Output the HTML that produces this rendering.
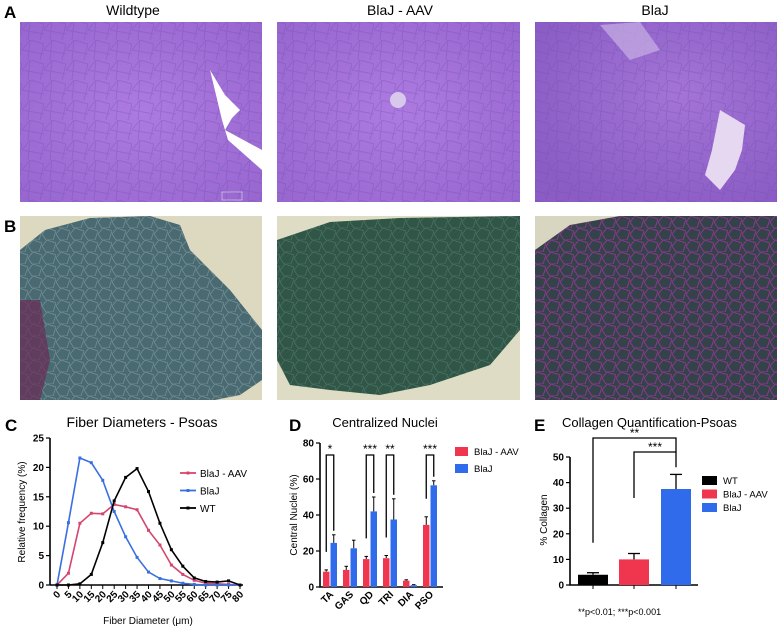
<!DOCTYPE html>
<html><head><meta charset="utf-8"><style>
html,body{margin:0;padding:0;background:#fff;}
svg{display:block;font-family:"Liberation Sans",sans-serif;}
</style></head><body>
<svg id="fig" width="777" height="630" viewBox="0 0 777 630" xmlns="http://www.w3.org/2000/svg">
<defs>
<radialGradient id="he1" cx="50%" cy="50%" r="70%"><stop offset="0" stop-color="#ad7be0"/><stop offset="1" stop-color="#9766cf"/></radialGradient>
<radialGradient id="he3" cx="60%" cy="40%" r="70%"><stop offset="0" stop-color="#a474d6"/><stop offset="1" stop-color="#8a5cc4"/></radialGradient>
<pattern id="cells" width="22" height="20" patternUnits="userSpaceOnUse"><path d="M0 10 L8 0 M8 0 L22 4 M22 4 L18 20 M8 0 L6 20 M0 10 L22 14" stroke="#7050b0" stroke-width="1" fill="none" opacity="0.35"/></pattern>
<pattern id="cellsB" width="14" height="12" patternUnits="userSpaceOnUse"><path d="M0 6 L5 0 L14 3 L11 12 L4 12 Z" stroke="#c8d8e0" stroke-width="0.7" fill="none" opacity="0.35"/></pattern>
<pattern id="cellsM" width="14" height="12" patternUnits="userSpaceOnUse"><path d="M0 6 L5 0 L14 3 L11 12 L4 12 Z" stroke="#d030c0" stroke-width="1" fill="none" opacity="0.55"/></pattern>
</defs>

<text x="4" y="18" font-size="17" font-weight="bold">A</text>
<text x="133" y="15" font-size="14" text-anchor="middle">Wildtype</text>
<text x="400" y="15" font-size="14" text-anchor="middle">BlaJ - AAV</text>
<text x="655" y="15" font-size="14" text-anchor="middle">BlaJ</text>

<g>
<rect x="20" y="22" width="242" height="180" fill="url(#he1)"/>
<rect x="20" y="22" width="242" height="180" fill="url(#cells)"/>
<path d="M210 70 L225 95 L240 110 L232 118 L225 130 L262 150 L262 170 L228 140 L222 120 Z" fill="#fff"/>
<rect x="222" y="192" width="20" height="8" fill="none" stroke="#ddd" stroke-width="0.6"/>
</g>
<g>
<rect x="277" y="22" width="243" height="180" fill="url(#he1)"/>
<rect x="277" y="22" width="243" height="180" fill="url(#cells)"/>
<circle cx="398" cy="100" r="8" fill="#d8c8ec"/>
</g>
<g>
<rect x="535" y="22" width="242" height="180" fill="url(#he3)"/>
<rect x="535" y="22" width="242" height="180" fill="url(#cells)"/>
<path d="M720 110 L745 125 L742 150 L735 170 L720 190 L705 175 L712 150 Z" fill="#e6d8f0"/>
<path d="M600 25 L640 22 L660 50 L630 60 Z" fill="#c8b0e4" opacity="0.7"/>
</g>

<text x="4" y="232" font-size="17" font-weight="bold">B</text>
<g>
<rect x="20" y="216" width="242" height="184" fill="#ddd9c0"/>
<path d="M20 250 L45 230 L90 218 L150 216 L180 225 L190 250 L230 290 L262 330 L262 380 L240 395 L215 400 L20 400 Z" fill="#4a6a72"/>
<path d="M20 250 L45 230 L90 218 L150 216 L180 225 L190 250 L230 290 L262 330 L262 380 L240 395 L215 400 L20 400 Z" fill="url(#cellsB)"/>
<path d="M20 300 L40 300 L50 360 L40 400 L20 400 Z" fill="#6a2a55" opacity="0.7"/>
</g>
<g>
<rect x="277" y="216" width="243" height="184" fill="#dedcc4"/>
<path d="M277 240 L330 222 L400 218 L520 216 L520 330 L490 365 L430 385 L380 395 L330 390 L290 385 L277 360 Z" fill="#2f5646"/>
<path d="M277 240 L330 222 L400 218 L520 216 L520 330 L490 365 L430 385 L380 395 L330 390 L290 385 L277 360 Z" fill="url(#cellsB)" opacity="0.6"/>
</g>
<g>
<rect x="535" y="216" width="242" height="184" fill="#d8d6c0"/>
<path d="M535 250 L570 225 L620 216 L777 216 L777 400 L535 400 Z" fill="#34434a"/>
<path d="M535 250 L570 225 L620 216 L777 216 L777 400 L535 400 Z" fill="url(#cellsM)"/>
</g>

<g id="chartC">
<text x="5" y="431" font-size="17" font-weight="bold">C</text>
<text x="142" y="427" font-size="14" text-anchor="middle">Fiber  Diameters -  Psoas</text>
<text x="0" y="0" font-size="10" text-anchor="middle" transform="translate(25,512) rotate(-90)">Relative frequency (%)</text>
<text x="148" y="624" font-size="10" text-anchor="middle">Fiber Diameter (μm)</text>
</g>

<g id="chartD">
<text x="289" y="431" font-size="17" font-weight="bold">D</text>
<text x="385" y="427" font-size="13" text-anchor="middle">Centralized Nuclei</text>
<text x="0" y="0" font-size="10" text-anchor="middle" transform="translate(297,515) rotate(-90)">Central Nuclei (%)</text>
</g>

<g id="chartE">
<text x="534" y="431" font-size="17" font-weight="bold">E</text>
<text x="562" y="427" font-size="13">Collagen Quantification-Psoas</text>
<text x="0" y="0" font-size="10" text-anchor="middle" transform="translate(547,520) rotate(-90)">% Collagen</text>
<text x="578" y="615" font-size="9">**p&lt;0.01; ***p&lt;0.001</text>
</g>
</svg>
<script>
const NS="http://www.w3.org/2000/svg";
function mk(parent,tag,attrs,txt){const e=document.createElementNS(NS,tag);for(const k in attrs)e.setAttribute(k,attrs[k]);if(txt!==undefined)e.textContent=txt;parent.appendChild(e);return e;}

const cDiameters=[0,5,10,15,20,25,30,35,40,45,50,55,60,65,70,75,80];
const cAav=[0,2,10.5,12.2,12.1,13.7,13.3,12.8,9.3,6.8,3.4,1.8,0.8,0.3,0.2,0.1,0];
const cBlaj=[0,10.6,21.6,20.8,17.8,12.5,8.2,4.7,2.2,1.1,0.7,0.3,0.1,0,0,0,0];
const cWt=[0,0,0.2,1.8,7.2,14.3,18.3,19.8,15.9,10.5,6,3.2,1.2,0.6,0.5,0.7,0];
const cYTicks=[0,5,10,15,20,25];
const cSeriesNames=["BlaJ - AAV","BlaJ","WT"];

const dMuscles=["TA","GAS","QD","TRI","DIA","PSO"];
const dAav=[8.5,9.5,15.5,16,3.5,34.5];
const dAavErr=[1,2,1.5,1.5,0.5,4.5];
const dBlaj=[24.5,21.5,42,37.5,1,56.5];
const dBlajErr=[4.5,4.5,8,11.5,0.3,2.5];
const dYTicks=[0,20,40,60,80];
const dStars=["*","","***","**","","***"];

const eGroups=["WT","BlaJ - AAV","BlaJ"];
const eValues=[4,10,37.5];
const eErr=[0.8,2.3,5.7];
const eYTicks=[0,10,20,30,40,50];

(function(){
const g=document.getElementById("chartC");
const x=v=>57+(v/80)*183, y=v=>585-(v/25)*147;
const ax=mk(g,"path",{d:`M50 ${y(25)} L50 585 M50 585 L243 585`,stroke:"#000","stroke-width":1.6,fill:"none"});


cYTicks.forEach(t=>{
 const tk=mk(g,"line",{x1:46,x2:50,y1:y(t),y2:y(t),stroke:"#000","stroke-width":1.2});
 
 
 const lb=mk(g,"text",{x:44,y:y(t)+3.5,"font-size":10,"font-weight":"bold","text-anchor":"end"},t);
 
 
});
cDiameters.forEach(d=>{
 const tk=mk(g,"line",{x1:x(d),x2:x(d),y1:585,y2:589,stroke:"#000","stroke-width":1});
 
 
 const lb=mk(g,"text",{x:0,y:0,"font-size":10,"font-weight":"bold","text-anchor":"end",transform:`translate(${x(d)+4},${595}) rotate(-45)`},d);
 
 
});
const series=[[cAav,"#d6456e"],[cBlaj,"#3a6fe0"],[cWt,"#000"]];
series.forEach(([vals,col],si)=>{
 const ln=mk(g,"polyline",{points:vals.map((v,i)=>x(cDiameters[i])+","+y(v)).join(" "),fill:"none",stroke:col,"stroke-width":1.6});
 
 
 vals.forEach((v,i)=>{
  const p=mk(g,"rect",{x:x(cDiameters[i])-1.5,y:y(v)-1.5,width:3,height:3,fill:col});
  
  
 });
 const ly=473+si*17.5;
 const ll=mk(g,"line",{x1:180,x2:196,y1:ly,y2:ly,stroke:col,"stroke-width":1.8});
 
 
 mk(g,"rect",{x:186.5,y:ly-1.5,width:3,height:3,fill:col});
 const lt=mk(g,"text",{x:200,y:ly+4,"font-size":10},cSeriesNames[si]);
 
 
});
})();

(function(){
const g=document.getElementById("chartD");
const y=v=>587-(v/80)*144;
const gx=i=>330+i*20;
const ax=mk(g,"path",{d:`M320 ${y(80)} L320 587 L443 587`,stroke:"#000","stroke-width":1.6,fill:"none"});


dYTicks.forEach(t=>{
 mk(g,"line",{x1:316,x2:320,y1:y(t),y2:y(t),stroke:"#000","stroke-width":1.2});
 const lb=mk(g,"text",{x:314,y:y(t)+3.5,"font-size":10,"font-weight":"bold","text-anchor":"end"},t);
 
 
});
dMuscles.forEach((m,i)=>{
 const cx=gx(i);
 [[dAav[i],dAavErr[i],"#f0364f",cx-7],[dBlaj[i],dBlajErr[i],"#2f6bea",cx+0.5]].forEach(([v,e,col,bx],k)=>{
  mk(g,"line",{x1:bx+3.25,x2:bx+3.25,y1:y(v),y2:y(v+e),stroke:"#000","stroke-width":1});
  mk(g,"line",{x1:bx+1.5,x2:bx+5,y1:y(v+e),y2:y(v+e),stroke:"#000","stroke-width":1});
  const b=mk(g,"rect",{x:bx,y:y(v),width:6.5,height:587-y(v),fill:col});
  
  
 });
 const lb=mk(g,"text",{x:0,y:0,"font-size":10,"font-weight":"bold","text-anchor":"end",transform:`translate(${cx+4},${595}) rotate(-45)`},m);
 
 
 if(dStars[i]){
  const top=y(80)+12;
  const br=mk(g,"path",{d:`M${cx-3.75} ${y(dAav[i]+dAavErr[i])-22>top?y(dAav[i]+dAavErr[i]+10):y(30)} L${cx-3.75} ${top} L${cx+3.75} ${top} L${cx+3.75} ${y(dBlaj[i]+dBlajErr[i])-4}`,fill:"none",stroke:"#000","stroke-width":1.3});
  
  
  const st=mk(g,"text",{x:cx,y:top-2,"font-size":12,"text-anchor":"middle"},dStars[i]);
  
  
 }
});
[["BlaJ - AAV","#f0364f"],["BlaJ","#2f6bea"]].forEach(([n,c],i)=>{
 const r=mk(g,"rect",{x:455,y:447+i*17,width:13,height:9,fill:c});
 
 
 mk(g,"text",{x:474,y:455+i*17,"font-size":9.5},n);
});
})();

(function(){
const g=document.getElementById("chartE");
const y=v=>585-(v/50)*128;
const bx=[578,619,661], bw=30;
const ax=mk(g,"path",{d:`M570 ${y(50)} L570 585 L698 585`,stroke:"#000","stroke-width":1.6,fill:"none"});


eYTicks.forEach(t=>{
 mk(g,"line",{x1:566,x2:570,y1:y(t),y2:y(t),stroke:"#000","stroke-width":1.2});
 const lb=mk(g,"text",{x:564,y:y(t)+3.5,"font-size":10,"font-weight":"bold","text-anchor":"end"},t);
 
 
});
const cols=["#000","#f0364f","#2f6bea"];
eGroups.forEach((n,i)=>{
 const cx=bx[i]+bw/2;
 mk(g,"line",{x1:cx,x2:cx,y1:y(eValues[i]),y2:y(eValues[i]+eErr[i]),stroke:"#000","stroke-width":1.3});
 mk(g,"line",{x1:cx-6,x2:cx+6,y1:y(eValues[i]+eErr[i]),y2:y(eValues[i]+eErr[i]),stroke:"#000","stroke-width":1.3});
 const b=mk(g,"rect",{x:bx[i],y:y(eValues[i]),width:bw,height:585-y(eValues[i]),fill:cols[i]});
 
 
 mk(g,"line",{x1:cx,x2:cx,y1:585,y2:589,stroke:"#000","stroke-width":1});
 const r=mk(g,"rect",{x:702,y:476+i*13.5,width:15,height:9,fill:cols[i]});
 
 
 mk(g,"text",{x:723,y:484+i*13.5,"font-size":9.5},n);
});
const c0=bx[0]+bw/2,c1=bx[1]+bw/2,c2=bx[2]+bw/2;
const b1=mk(g,"path",{d:`M${c0} ${y(16.5)} L${c0} 438 L${c2} 438 L${c2} ${y(46)}`,fill:"none",stroke:"#000","stroke-width":1.3});


mk(g,"text",{x:(c0+c2)/2,y:437,"font-size":12,"text-anchor":"middle"},"**");
const b2=mk(g,"path",{d:`M${c1} ${y(34)} L${c1} 452 L${c2} 452`,fill:"none",stroke:"#000","stroke-width":1.3});


mk(g,"text",{x:(c1+c2)/2,y:451,"font-size":12,"text-anchor":"middle"},"***");
})();
</script>
</body></html>
